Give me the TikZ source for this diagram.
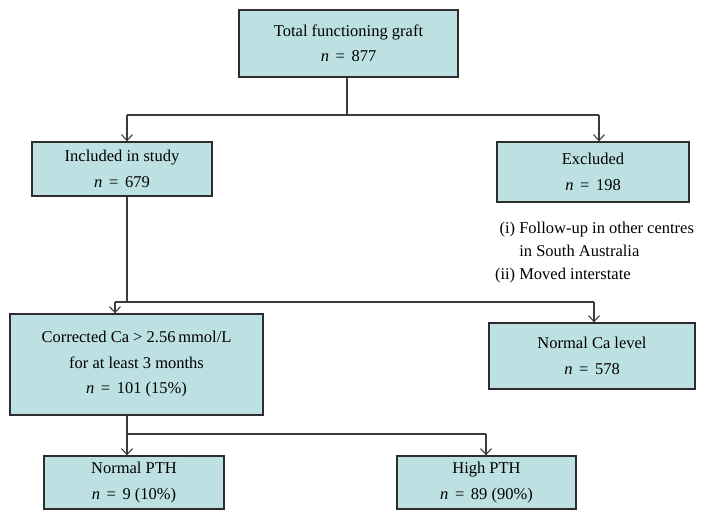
\documentclass[tikz,border=0pt]{standalone}
\usepackage{fontspec}
\setmainfont{Liberation Serif}
\usetikzlibrary{arrows.meta}
\definecolor{boxfill}{RGB}{189,224,227}
\definecolor{boxline}{RGB}{45,45,45}
\definecolor{conn}{RGB}{60,60,60}
\newcommand{\ncount}{\textit{n}\hspace{0.4em}=\hspace{0.4em}}
\begin{document}
\begin{tikzpicture}[x=1pt,y=-1pt,
  flowbox/.style={draw=boxline,fill=boxfill,line width=1.3pt,align=center,inner sep=0pt,
    font=\fontsize{16.5}{25.5}\selectfont},
  link/.style={draw=conn,line width=1.2pt},
  arr/.style={link,-{Straight Barb[length=6pt,width=11pt,line width=1.1pt]}}]
\useasboundingbox (0,0) rectangle (706,520);
\fill[white] (0,0) rectangle (706,520);

\node[flowbox,minimum width=219pt,minimum height=67pt] (top) at (348.5,43.5)
  {Total functioning graft\\\ncount 877};
\node[flowbox,minimum width=180pt,minimum height=54pt] (inc) at (122,169)
  {Included in study\\\ncount 679};
\node[flowbox,minimum width=192pt,minimum height=60pt] (exc) at (593,172)
  {Excluded\\\ncount 198};
\node[flowbox,minimum width=253pt,minimum height=101pt] (cor) at (136.5,364.5)
  {Corrected Ca > 2.56\,mmol/L\\for at least 3 months\\\ncount 101 (15\%)};
\node[flowbox,minimum width=206pt,minimum height=66pt] (nca) at (592,356)
  {Normal Ca level\\\ncount 578};
\node[flowbox,minimum width=180pt,minimum height=53pt] (npth) at (134,482.5)
  {Normal PTH\\\ncount 9 (10\%)};
\node[flowbox,minimum width=179pt,minimum height=53pt] (hpth) at (486.5,482.5)
  {High PTH\\\ncount 89 (90\%)};

\node[anchor=north west,align=left,inner sep=0pt,font=\fontsize{16.5}{23}\selectfont] (notes) at (496,222)
  {\makebox[19pt][r]{(i)}\ Follow-up in other centres\\
   \makebox[19pt][r]{}\ in South Australia\\
   \makebox[19pt][r]{(ii)}\ Moved interstate};

% level 1
\coordinate (j1) at (347,115);
\coordinate (j1l) at (127,115);
\coordinate (j1r) at (599,115);
\draw[link] (top.south -| j1) -- (j1);
\draw[link] (j1l) -- (j1r);
\draw[arr] (j1l) -- (j1l |- inc.north);
\draw[arr] (j1r) -- (j1r |- exc.north);

% level 2
\coordinate (j2) at (127,302);
\coordinate (j2l) at (115,302);
\coordinate (j2r) at (594,302);
\draw[link] (inc.south -| j2) -- (j2);
\draw[link] (j2l) -- (j2r);
\draw[arr] (j2l) -- (j2l |- cor.north);
\draw[arr] (j2r) -- (j2r |- nca.north);

% level 3
\coordinate (j3) at (127,434);
\coordinate (j3r) at (486,434);
\draw[link] (cor.south -| j3) -- (j3);
\draw[link] (j3) -- (j3r);
\draw[arr] (j3) -- (j3 |- npth.north);
\draw[arr] (j3r) -- (j3r |- hpth.north);
\end{tikzpicture}
\end{document}
